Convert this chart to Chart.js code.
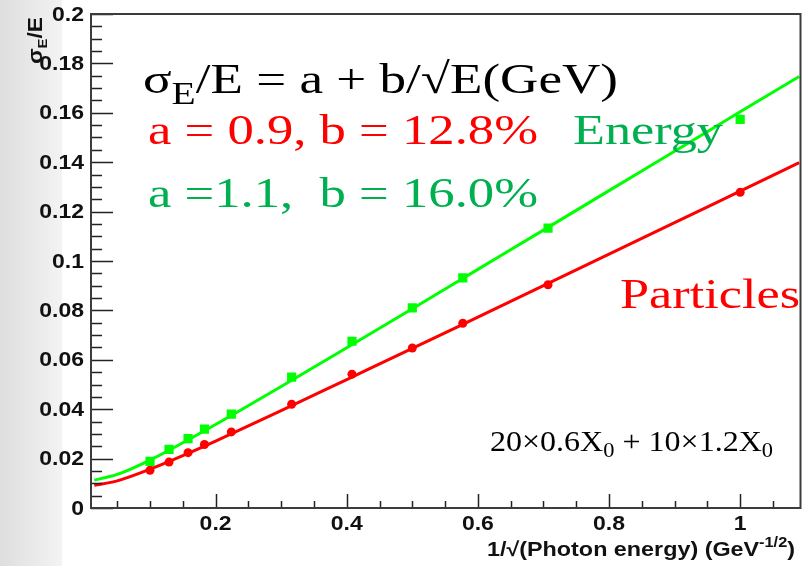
<!DOCTYPE html>
<html>
<head>
<meta charset="utf-8">
<script src="https://cdn.jsdelivr.net/npm/chart.js@4.4.1/dist/chart.umd.min.js"></script>
<style>
  html, body { margin: 0; padding: 0; background: #fff; }
  #wrap { width: 807px; height: 566px; }
</style>
</head>
<body>
<div id="wrap"><canvas id="myChart" width="807" height="566"></canvas></div>
<script>
// measured points, x = 1/sqrt(E)
var xPoints = [0.1, 0.129, 0.158, 0.183, 0.224, 0.316, 0.408, 0.5, 0.577, 0.707, 1.0];
var particles = [0.0153, 0.0186, 0.0224, 0.0257, 0.0308, 0.0420, 0.0542, 0.0648, 0.0748, 0.0904, 0.1278];
var energy = [0.0189, 0.0237, 0.0281, 0.0319, 0.0380, 0.0530, 0.0675, 0.0810, 0.0932, 0.1133, 0.1573];

// fit curves
var fitX = [0.015, 0.05, 0.1, 0.15, 0.2, 0.3, 0.4, 0.5, 0.6, 0.7, 0.8, 0.9, 1.0, 1.09];
var fitParticles = [0.0092, 0.0110, 0.0157, 0.0212, 0.0271, 0.0394, 0.0520, 0.0646, 0.0773, 0.0900, 0.1028, 0.1155, 0.1283, 0.1398];
var fitEnergy = [0.0113, 0.0136, 0.0194, 0.0264, 0.0338, 0.0492, 0.0649, 0.0807, 0.0966, 0.1125, 0.1285, 0.1444, 0.1604, 0.1747];

// axis ticks
var xMajor = [0.2, 0.4, 0.6, 0.8, 1.0];
var xLabels = ['0.2', '0.4', '0.6', '0.8', '1'];
var xMinor = [0.05, 0.1, 0.15, 0.25, 0.3, 0.35, 0.45, 0.5, 0.55, 0.65, 0.7, 0.75, 0.85, 0.9, 0.95, 1.05];
var yMajor = [0, 0.02, 0.04, 0.06, 0.08, 0.1, 0.12, 0.14, 0.16, 0.18, 0.2];
var yLabels = ['0', '0.02', '0.04', '0.06', '0.08', '0.1', '0.12', '0.14', '0.16', '0.18', '0.2'];

var RED = '#ff0000';
var GREEN = '#00ff00';
var TEXTGREEN = '#00b050';

function pts(xs, ys) {
    var out = [];
    for (var i = 0; i < xs.length; i++) out.push({x: xs[i], y: ys[i]});
    return out;
}

// draws text parts side by side, squeezed/stretched to a given width
function richText(ctx, parts, x, y, width, color) {
    var total = 0;
    parts.forEach(function(p) { ctx.font = p.font; total += ctx.measureText(p.t).width; });
    ctx.save();
    ctx.translate(x, y);
    ctx.scale(width / total, 1);
    ctx.fillStyle = color;
    ctx.textBaseline = 'alphabetic';
    ctx.textAlign = 'left';
    var cx = 0;
    parts.forEach(function(p) {
        ctx.font = p.font;
        ctx.fillText(p.t, cx, p.dy || 0);
        cx += ctx.measureText(p.t).width;
    });
    ctx.restore();
}

function stretchLabel(ctx, txt, x, y, sx, align) {
    ctx.save();
    ctx.translate(x, y);
    ctx.scale(sx, 1);
    ctx.textAlign = align;
    ctx.fillText(txt, 0, 0);
    ctx.restore();
}

var serif = 'Liberation Serif';
var sans = 'Liberation Sans';

var rootStyle = {
    id: 'rootStyle',
    beforeDraw: function(chart) {
        var ctx = chart.ctx;
        ctx.save();
        ctx.fillStyle = '#ffffff';
        ctx.fillRect(0, 0, chart.width, chart.height);
        var g = ctx.createLinearGradient(0, 0, 62, 0);
        g.addColorStop(0, '#dedede');
        g.addColorStop(1, '#f3f3f3');
        ctx.fillStyle = g;
        ctx.fillRect(0, 0, 62, chart.height);
        ctx.restore();
    },
    afterDraw: function(chart) {
        var ctx = chart.ctx;
        var a = chart.chartArea;
        var xs = chart.scales.x, ys = chart.scales.y;
        ctx.save();

        // ticks pointing inwards
        ctx.strokeStyle = '#222';
        ctx.lineWidth = 1.5;
        ctx.beginPath();
        yMajor.forEach(function(v) {
            var py = Math.round(ys.getPixelForValue(v)) + 0.5;
            ctx.moveTo(a.left, py); ctx.lineTo(a.left + 22, py);
        });
        for (var v = 0.005; v < 0.2; v += 0.005) {
            var py = Math.round(ys.getPixelForValue(v)) + 0.5;
            ctx.moveTo(a.left, py); ctx.lineTo(a.left + 11, py);
        }
        xMajor.forEach(function(v) {
            var px = Math.round(xs.getPixelForValue(v)) + 0.5;
            ctx.moveTo(px, a.bottom); ctx.lineTo(px, a.bottom - 14);
        });
        xMinor.forEach(function(v) {
            var px = Math.round(xs.getPixelForValue(v)) + 0.5;
            ctx.moveTo(px, a.bottom); ctx.lineTo(px, a.bottom - 7);
        });
        ctx.stroke();

        // frame
        ctx.strokeStyle = '#3c3c3c';
        ctx.lineWidth = 2;
        ctx.strokeRect(a.left, a.top, a.right - a.left, a.bottom - a.top);

        // tick labels
        ctx.fillStyle = '#111';
        ctx.font = 'bold 20px ' + sans;
        ctx.textBaseline = 'middle';
        yMajor.forEach(function(v, i) {
            stretchLabel(ctx, yLabels[i], 84, ys.getPixelForValue(v) + 1, 1.15, 'right');
        });
        ctx.textBaseline = 'alphabetic';
        xMajor.forEach(function(v, i) {
            stretchLabel(ctx, xLabels[i], xs.getPixelForValue(v), 530, 1.15, 'center');
        });

        // axis titles
        richText(ctx, [
            {t: '1/\u221A(Photon energy) (GeV', font: 'bold 20px ' + sans},
            {t: '-1/2', font: 'bold 14px ' + sans, dy: -9},
            {t: ')', font: 'bold 20px ' + sans}
        ], 487, 556, 308, '#111');

        ctx.save();
        ctx.translate(42, 64);
        ctx.rotate(-Math.PI / 2);
        richText(ctx, [
            {t: '\u03C3', font: 'bold 20px ' + sans},
            {t: 'E', font: 'bold 13px ' + sans, dy: 5},
            {t: '/E', font: 'bold 20px ' + sans}
        ], 0, 0, 47, '#111');
        ctx.restore();

        // annotations
        richText(ctx, [
            {t: '\u03C3', font: '43px ' + serif},
            {t: 'E', font: '32px ' + serif, dy: 11},
            {t: '/E = a + b/\u221AE(GeV)', font: '43px ' + serif}
        ], 143, 93, 475, '#000');
        richText(ctx, [{t: 'a = 0.9, b = 12.8%', font: '42px ' + serif}], 148, 144, 390, RED);
        richText(ctx, [{t: 'Energy', font: '42px ' + serif}], 573, 144, 150, TEXTGREEN);
        richText(ctx, [{t: 'a =1.1,  b = 16.0%', font: '42px ' + serif}], 148, 207, 390, TEXTGREEN);
        richText(ctx, [{t: 'Particles', font: '42px ' + serif}], 620, 308, 180, RED);
        richText(ctx, [
            {t: '20\u00D70.6X', font: '30px ' + serif},
            {t: '0', font: '21px ' + serif, dy: 6},
            {t: ' + 10\u00D71.2X', font: '30px ' + serif},
            {t: '0', font: '21px ' + serif, dy: 6}
        ], 490, 451, 283, '#000');

        ctx.restore();
    }
};

var chart = new Chart(document.getElementById('myChart').getContext('2d'), {
    type: 'scatter',
    data: {
        datasets: [{
            label: 'Energy',
            data: pts(xPoints, energy),
            backgroundColor: GREEN,
            borderColor: GREEN,
            pointStyle: 'rect',
            pointRadius: 6.5,
            pointBorderWidth: 0,
            showLine: false
        }, {
            label: 'Particles',
            data: pts(xPoints, particles),
            backgroundColor: RED,
            borderColor: RED,
            pointStyle: 'circle',
            pointRadius: 4.5,
            pointBorderWidth: 0,
            showLine: false
        }, {
            label: 'Energy fit',
            data: pts(fitX, fitEnergy),
            borderColor: GREEN,
            borderWidth: 3,
            pointRadius: 0,
            showLine: true,
            cubicInterpolationMode: 'monotone'
        }, {
            label: 'Particles fit',
            data: pts(fitX, fitParticles),
            borderColor: RED,
            borderWidth: 3,
            pointRadius: 0,
            showLine: true,
            cubicInterpolationMode: 'monotone'
        }]
    },
    options: {
        responsive: false,
        animation: false,
        devicePixelRatio: 1,
        layout: {
            padding: {left: 91, top: 14, right: 4, bottom: 58}
        },
        plugins: {
            legend: {display: false},
            tooltip: {enabled: false}
        },
        scales: {
            x: {type: 'linear', min: 0.01, max: 1.092, display: false},
            y: {type: 'linear', min: 0, max: 0.2, display: false}
        }
    },
    plugins: [rootStyle]
});
</script>
</body>
</html>
